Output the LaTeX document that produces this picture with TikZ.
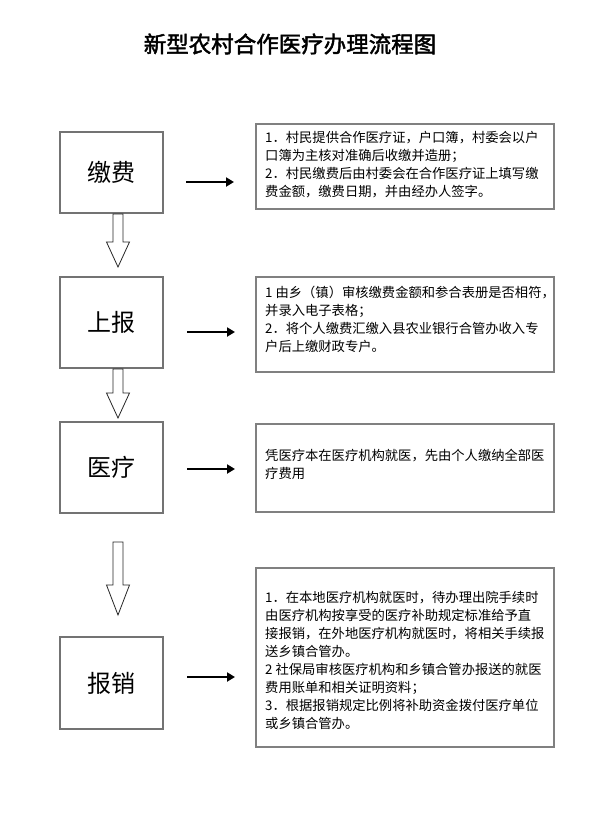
\documentclass[tikz,border=0pt]{standalone}
\usepackage{fontspec}
\setmainfont{Noto Sans CJK SC}
\newfontfamily\titlefont[FakeBold=2]{Noto Sans CJK SC}
\usetikzlibrary{arrows.meta,calc}
\tikzset{
  stagebox/.style={draw=black!55, line width=1.6pt, minimum width=103pt, inner sep=0pt, font=\fontsize{24}{28}\selectfont},
  notebox/.style={draw=black!50, line width=1.2pt},
  notetext/.style={anchor=north west, inner sep=0pt, align=left, font=\fontsize{13.3}{18}\selectfont},
  rarrow/.style={line width=2.8pt, -{Triangle[length=8pt,width=9pt]}},
  blockarrow/.style={draw=black!85, line width=0.8pt, fill=white}
}
\newcommand{\blockdown}[4]{% x, ytop, yhead, ytip
  \draw[blockarrow] (#1-5,#2) -- (#1+5,#2) -- (#1+5,#3) -- (#1+11.5,#3) -- (#1,#4) -- (#1-11.5,#3) -- (#1-5,#3) -- cycle;}
\begin{document}
\begin{tikzpicture}[x=1pt,y=-1pt]
\useasboundingbox (0,0) rectangle (595,822);
\fill[white] (0,0) rectangle (595,822);
% title
\node (title) at (290,44) {\titlefont\fontsize{22.5}{26}\selectfont 新型农村合作医疗办理流程图};
% stage boxes
\node[stagebox, minimum height=81pt] (s1) at (111.5,172.5) {缴费};
\node[stagebox, minimum height=91pt] (s2) at (111.5,322.5) {上报};
\node[stagebox, minimum height=91pt] (s3) at (111.5,467.5) {医疗};
\node[stagebox, minimum height=92pt] (s4) at (111.5,683) {报销};
% block arrows
\coordinate (d1) at (118,214);
\coordinate (d2) at (118,369);
\coordinate (d3) at (118,542);
\blockdown{118}{214}{242}{267}
\blockdown{118}{369}{393}{418}
\blockdown{118}{542}{585}{615}
% note boxes
\draw[notebox] (256,124) rectangle (554,209);
\draw[notebox] (256,277) rectangle (554,372);
\draw[notebox] (256,424) rectangle (554,512);
\draw[notebox] (256,568) rectangle (554,747);
\node[notetext] (n1) at (265,131.5) {1．村民提供合作医疗证，户口簿，村委会以户\\口簿为主核对准确后收缴并造册；\\2．村民缴费后由村委会在合作医疗证上填写缴\\费金额，缴费日期，并由经办人签字。};
\node[notetext] (n2) at (265,285.5) {1 由乡（镇）审核缴费金额和参合表册是否相符，\\并录入电子表格；\\2．将个人缴费汇缴入县农业银行合管办收入专\\户后上缴财政专户。};
\node[notetext] (n3) at (265,448.5) {凭医疗本在医疗机构就医，先由个人缴纳全部医\\疗费用};
\node[notetext] (n4) at (265,591.5) {1．在本地医疗机构就医时，待办理出院手续时\\由医疗机构按享受的医疗补助规定标准给予直\\接报销，在外地医疗机构就医时，将相关手续报\\送乡镇合管办。\\2 社保局审核医疗机构和乡镇合管办报送的就医\\费用账单和相关证明资料；\\3．根据报销规定比例将补助资金拨付医疗单位\\或乡镇合管办。};
% right arrows
\coordinate (a1s) at (186,182); \coordinate (a1e) at (234,182);
\coordinate (a2s) at (187,332); \coordinate (a2e) at (235,332);
\coordinate (a3s) at (187,469); \coordinate (a3e) at (235,469);
\coordinate (a4s) at (187,677); \coordinate (a4e) at (235,677);
\draw[rarrow] (a1s) -- (a1e);
\draw[rarrow] (a2s) -- (a2e);
\draw[rarrow] (a3s) -- (a3e);
\draw[rarrow] (a4s) -- (a4e);
\end{tikzpicture}
\end{document}
